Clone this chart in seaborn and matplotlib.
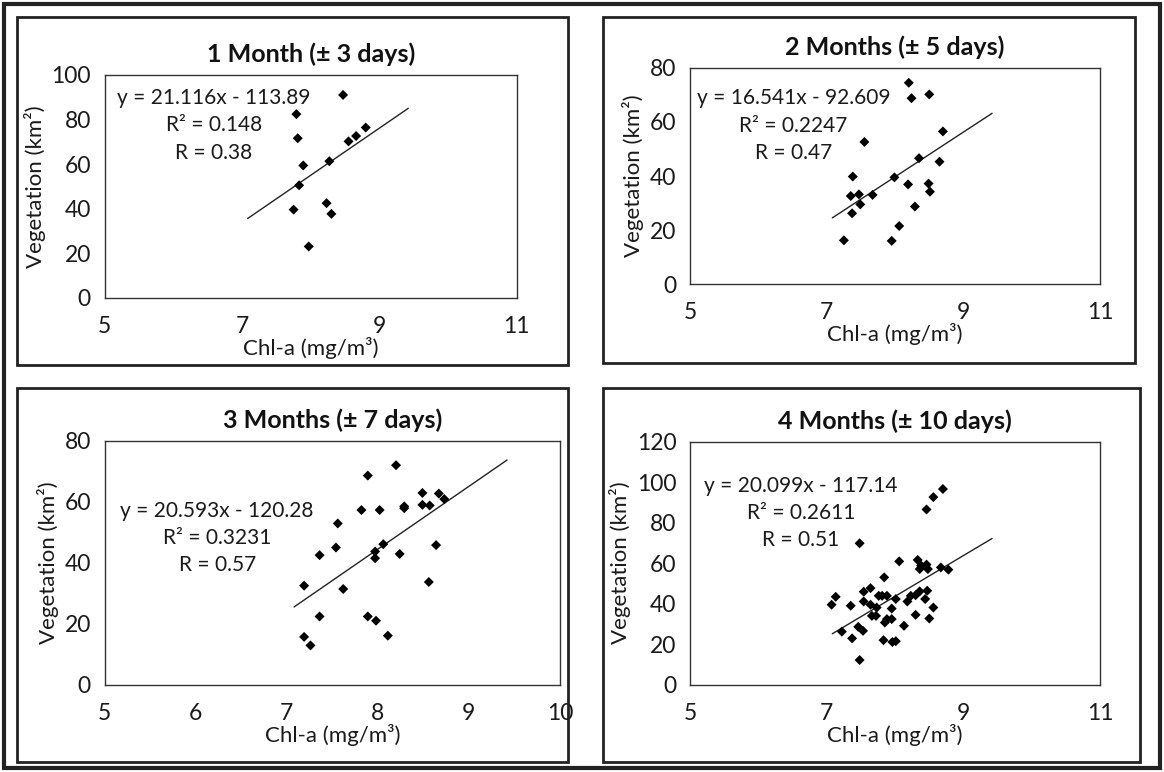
import numpy as np
import pandas as pd
import seaborn as sns
import matplotlib.pyplot as plt
from matplotlib.patches import Rectangle

# data
chl_1m = [8.47, 7.79, 7.81, 7.89, 7.83, 7.75, 7.97, 8.23, 8.30, 8.27, 8.55, 8.66, 8.80]
veg_1m = [91.0, 82.4, 71.6, 59.4, 50.5, 39.6, 23.1, 42.5, 37.7, 61.3, 70.2, 72.6, 76.4]

chl_2m = [8.20, 8.24, 8.50, 7.55, 8.70, 8.35, 8.65, 7.38, 7.99, 8.19, 8.49,
          8.51, 7.35, 7.47, 7.67, 7.49, 7.37, 8.29, 8.06, 7.25, 7.95]
veg_2m = [74.5, 68.8, 70.2, 52.6, 56.5, 46.6, 45.3, 39.8, 39.5, 36.9, 37.2,
          34.2, 32.6, 33.2, 33.0, 29.5, 26.2, 28.7, 21.5, 16.2, 16.0]

chl_3m = [8.20, 7.89, 8.49, 8.67, 8.73, 8.49, 8.57, 8.29, 8.29, 7.82, 8.02, 7.56, 7.54, 8.06,
          8.64, 7.36, 8.24, 7.97, 7.97, 7.19, 7.62, 8.56, 7.36, 7.89, 7.98, 8.11, 7.19, 7.26]
veg_3m = [72.0, 68.6, 62.9, 62.7, 60.9, 59.0, 58.8, 58.5, 57.9, 57.3, 57.3, 52.9, 45.0, 46.1,
          45.8, 42.5, 42.9, 43.7, 41.5, 32.5, 31.4, 33.7, 22.4, 22.4, 21.0, 16.1, 15.7, 12.9]

chl_4m = [8.70, 8.56, 8.46, 7.48, 8.06, 8.33, 8.36, 8.38, 8.46, 8.48, 8.67, 8.78, 7.84,
          7.64, 7.54, 7.13, 7.07, 7.35, 7.54, 7.64, 7.76, 7.81, 7.88, 7.73, 7.66, 7.72,
          8.01, 7.95, 7.88, 7.85, 7.95, 8.13, 8.18, 8.23, 8.30, 8.36, 8.47, 8.44, 8.56,
          8.30, 8.50, 7.22, 7.37, 7.46, 7.53, 7.83, 7.96, 8.01, 7.48]
veg_4m = [96.6, 92.6, 86.5, 69.8, 60.9, 61.6, 57.1, 58.8, 59.3, 57.1, 57.9, 56.8, 53.0,
          47.7, 45.9, 43.4, 39.5, 39.0, 41.1, 39.5, 43.9, 43.9, 43.9, 38.1, 34.0, 34.0,
          42.3, 37.6, 32.4, 30.7, 32.4, 29.1, 41.1, 43.9, 44.2, 46.1, 46.4, 42.3, 38.1,
          34.5, 32.7, 26.2, 22.9, 28.6, 26.6, 22.0, 21.1, 21.5, 12.2]

titles = ["1 Month (± 3 days)", "2 Months (± 5 days)", "3 Months (± 7 days)", "4 Months (± 10 days)"]
slopes = [21.116, 16.541, 20.593, 20.099]
intercepts = [-113.89, -92.609, -120.28, -117.14]
r2_text = ["0.148", "0.2247", "0.3231", "0.2611"]
r_text = ["0.38", "0.47", "0.57", "0.51"]
trend_x = [7.08, 9.42]
x_max = [11, 11, 10, 11]
x_step = [2, 2, 1, 2]
y_max = [100, 80, 80, 120]

sns.set_theme(style="white")
plt.rcParams['font.family'] = ['Lato', 'DejaVu Sans']

fig = plt.figure(figsize=(11.64, 7.72), dpi=100)

# axes rectangles (figure fraction)
rects = [[0.090, 0.614, 0.354, 0.289],
         [0.593, 0.632, 0.352, 0.280],
         [0.090, 0.113, 0.391, 0.316],
         [0.593, 0.113, 0.352, 0.315]]
# equation text anchor (axes fraction)
eq_pos = [(0.265, 0.94), (0.252, 0.905), (0.247, 0.755), (0.27, 0.86)]

panels = [(chl_1m, veg_1m), (chl_2m, veg_2m), (chl_3m, veg_3m), (chl_4m, veg_4m)]

for i, (xs, ys) in enumerate(panels):
    ax = fig.add_axes(rects[i])
    df = pd.DataFrame({"chl": xs, "veg": ys})
    sns.scatterplot(data=df, x="chl", y="veg", ax=ax, color="black",
                    marker="D", s=26, edgecolor="none", zorder=3)
    tx = np.array(trend_x)
    line_df = pd.DataFrame({"chl": tx, "veg": slopes[i] * tx + intercepts[i]})
    sns.lineplot(data=line_df, x="chl", y="veg", ax=ax, color="#222222", lw=1.0)

    ax.set_xlim(5, x_max[i])
    ax.set_ylim(0, y_max[i])
    ax.set_xticks(np.arange(5, x_max[i] + 0.1, x_step[i]))
    ax.set_yticks(np.arange(0, y_max[i] + 1, 20))
    ax.tick_params(axis="both", labelsize=16.5, length=5, width=0.8,
                   direction="out", color="#555555", pad=5, labelcolor="#1a1a1a")
    ax.tick_params(axis="x", pad=8)
    for sp in ax.spines.values():
        sp.set_color("#333333")
        sp.set_linewidth(1.0)
    ax.set_xlabel("Chl-a (mg/m³)", fontsize=16, labelpad=0, color="#1a1a1a")
    ax.set_ylabel("Vegetation (km²)", fontsize=16, labelpad=4, color="#1a1a1a")
    ax.set_title(titles[i], fontsize=18, fontweight="bold", pad=9, color="#111111")

    sign = "-" if intercepts[i] < 0 else "+"
    eq = (f"y = {slopes[i]}x {sign} {abs(intercepts[i])}\n"
          f"R² = {r2_text[i]}\nR = {r_text[i]}")
    ax.text(eq_pos[i][0], eq_pos[i][1], eq, transform=ax.transAxes,
            ha="center", va="top", multialignment="center",
            fontsize=15, linespacing=1.45, color="#1a1a1a")

# panel frames and outer border
frames = [(17, 17, 568, 365), (603, 17, 1135, 363),
          (17, 388, 568, 762), (603, 388, 1140, 762)]
W, H = 1164, 772
for (x0, y0, x1, y1) in frames:
    fig.add_artist(Rectangle((x0 / W, 1 - y1 / H), (x1 - x0) / W, (y1 - y0) / H,
                             transform=fig.transFigure, fill=False,
                             edgecolor="#222222", lw=2.0))
fig.add_artist(Rectangle((4 / W, 4 / H), (W - 8) / W, (H - 8) / H,
                         transform=fig.transFigure, fill=False,
                         edgecolor="#222222", lw=3.0))

fig.savefig("out.png", dpi=100)
